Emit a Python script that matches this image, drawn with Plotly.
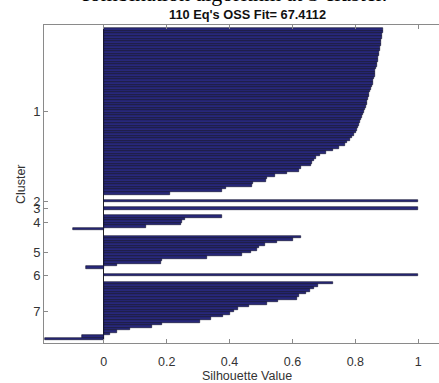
import plotly.graph_objects as go

# Silhouette values per cluster (sorted descending)
c1 = [0.889, 0.887, 0.886, 0.884, 0.883, 0.881, 0.880, 0.878, 0.877, 0.875,
      0.874, 0.872, 0.871, 0.869, 0.868, 0.866, 0.864, 0.862, 0.861, 0.859,
      0.857, 0.855, 0.852, 0.849, 0.846, 0.844, 0.842, 0.840, 0.838, 0.836,
      0.833, 0.831, 0.828, 0.825, 0.822, 0.819, 0.816, 0.813, 0.810, 0.806,
      0.802, 0.797, 0.790, 0.783, 0.775, 0.766, 0.748, 0.730, 0.708, 0.688,
      0.675, 0.667, 0.663, 0.660, 0.628, 0.620, 0.583, 0.545, 0.520, 0.515,
      0.476, 0.470, 0.388, 0.375, 0.211]
c2 = [1.0]
c3 = [1.0]
c4 = [0.375, 0.258, 0.248, 0.245, 0.134, -0.097]
c5 = [0.626, 0.601, 0.552, 0.513, 0.495, 0.487, 0.467, 0.439, 0.327, 0.186,
      0.182, 0.043, -0.056]
c6 = [1.0]
c7 = [0.728, 0.680, 0.669, 0.656, 0.643, 0.622, 0.614, 0.555, 0.518, 0.463,
      0.428, 0.414, 0.400, 0.378, 0.341, 0.306, 0.184, 0.153, 0.084, 0.043,
      0.020, -0.070, -0.187]
clusters = [c1, c2, c3, c4, c5, c6, c7]
cluster_names = ["1", "2", "3", "4", "5", "6", "7"]
x_ticks = [0, 0.2, 0.4, 0.6, 0.8, 1]

title_text = "110 Eq's OSS Fit= 67.4112"
caption_text = "combination algorithm at 3 cluster."

# MATLAB-style layout: 2 empty rows before and between clusters
space = 2
pos, vals, tick_pos = [], [], []
cnt = space
for c in clusters:
    idx = [cnt + 1 + i for i in range(len(c))]
    pos += idx
    vals += c
    tick_pos.append((idx[0] + idx[-1]) / 2)
    cnt += len(c) + space

fig = go.Figure(go.Bar(
    x=vals, y=pos, orientation="h", width=1.0,
    marker=dict(color="#28287a", line=dict(color="#0d0d2a", width=0.6)),
    showlegend=False, hoverinfo="skip",
))

axis_col = "#8a8a8a"
fig.update_layout(
    width=439, height=383,
    margin=dict(l=44, r=0, t=25, b=40),
    paper_bgcolor="white", plot_bgcolor="white",
    bargap=0,
    font=dict(family="Liberation Sans, Arial, sans-serif", size=12.5, color="#333333"),
    xaxis=dict(
        range=[-0.19, 1.066], tickvals=x_ticks, ticktext=[f"{v:g}" for v in x_ticks],
        ticks="inside", ticklen=4, tickcolor=axis_col, ticklabelstandoff=7,
        showline=True, linecolor=axis_col, linewidth=1, mirror="ticks",
        showgrid=False, zeroline=True, zerolinecolor="#222222", zerolinewidth=1,
        tickfont=dict(size=12.5, color="#333333"),
    ),
    yaxis=dict(
        range=[125.5, 1.21], tickvals=tick_pos, ticktext=cluster_names,
        ticks="inside", ticklen=4, tickcolor=axis_col,
        showline=True, linecolor=axis_col, linewidth=1, mirror=False,
        showgrid=False, zeroline=False,
        tickfont=dict(size=13, color="#333333"),
    ),
    annotations=[
        dict(text="<b>" + title_text + "</b>", xref="paper", yref="paper",
             x=0.515, y=1.034, xanchor="center", yanchor="middle", showarrow=False,
             font=dict(size=12.8, color="#111111")),
        dict(text="Silhouette Value", xref="paper", yref="paper",
             x=0.515, y=-0.104, xanchor="center", yanchor="middle", showarrow=False,
             font=dict(size=12.5, color="#333333")),
        dict(text="Cluster", xref="paper", yref="paper", textangle=-90,
             x=-0.058, y=0.5, xanchor="center", yanchor="middle", showarrow=False,
             font=dict(size=12.5, color="#333333")),
        dict(text=caption_text, xref="paper", yref="paper",
             x=0.481, y=1.0975, xanchor="center", yanchor="middle", showarrow=False,
             font=dict(family="Liberation Serif, Times New Roman, serif", size=22, color="black")),
    ],
)

fig.write_html("out.html")
